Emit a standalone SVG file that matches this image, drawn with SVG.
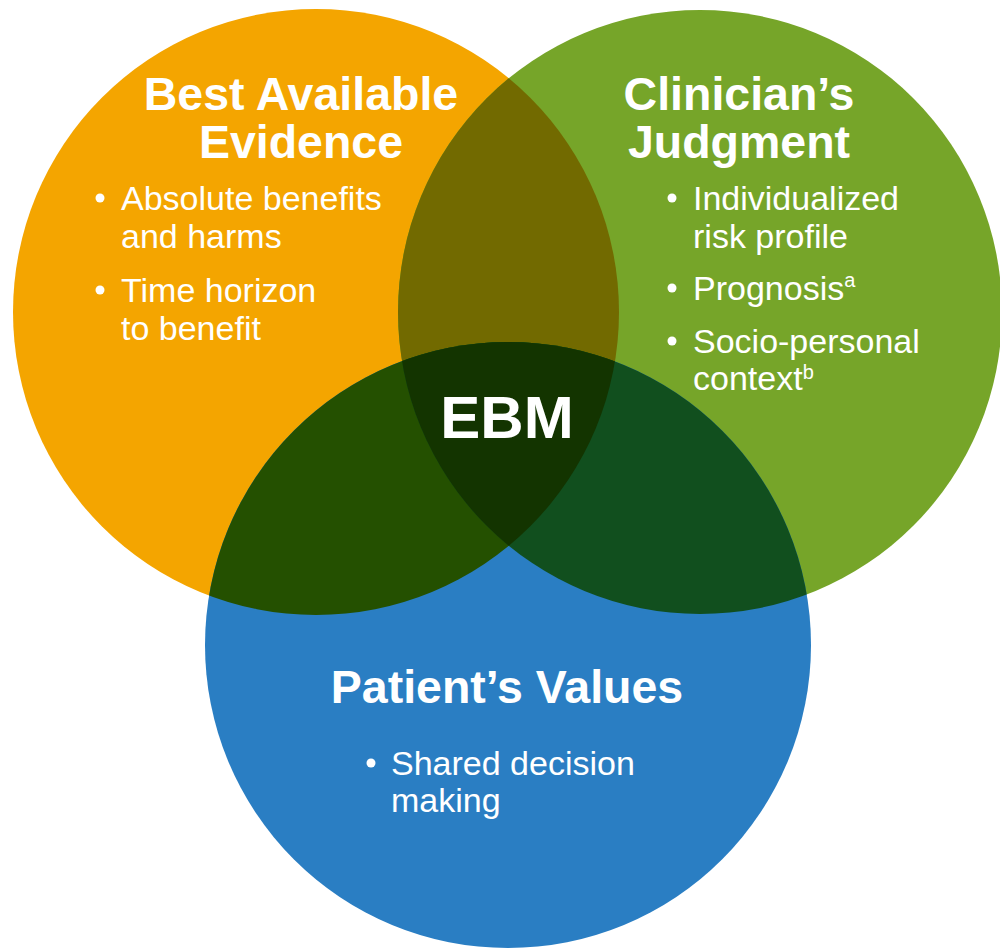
<svg xmlns="http://www.w3.org/2000/svg" width="1000" height="948" viewBox="0 0 1000 948">
<style>
text{font-family:"Liberation Sans",Arial,Helvetica,sans-serif;fill:#fff}
.t{font-weight:bold;font-size:46.5px;text-anchor:middle}
.b{font-size:34px}
.sup{font-size:20px}
.e{font-weight:bold;font-size:60px;text-anchor:middle}
</style>
<defs>
<clipPath id="cO"><circle cx="316" cy="312" r="303"/></clipPath>
<clipPath id="cG"><circle cx="700" cy="312" r="302"/></clipPath>
</defs>
<rect width="1000" height="948" fill="#fff"/>
<g id="evidence"><circle cx="316" cy="312" r="303" fill="#F4A500"/></g>
<g id="judgment"><circle cx="700" cy="312" r="302" fill="#76A529"/></g>
<g id="values"><circle cx="508" cy="645" r="303" fill="#2A7EC3"/></g>
<g id="overlaps">
<circle cx="700" cy="312" r="302" fill="#726A00" clip-path="url(#cO)"/>
<circle cx="508" cy="645" r="303" fill="#245000" clip-path="url(#cO)"/>
<circle cx="508" cy="645" r="303" fill="#114F1E" clip-path="url(#cG)"/>
<g clip-path="url(#cG)"><circle cx="508" cy="645" r="303" fill="#133400" clip-path="url(#cO)"/></g>
</g>
<g id="evidence-label">
<text class="t" x="301" y="110">Best Available</text>
<text class="t" x="301" y="158">Evidence</text>
<circle cx="100" cy="198" r="4.5" fill="#fff"/>
<text class="b" x="121" y="210">Absolute benefits</text>
<text class="b" x="121" y="248">and harms</text>
<circle cx="100" cy="290" r="4.5" fill="#fff"/>
<text class="b" x="121" y="302">Time horizon</text>
<text class="b" x="121" y="340">to benefit</text>
</g>
<g id="judgment-label">
<text class="t" x="739" y="110">Clinician’s</text>
<text class="t" x="739" y="158">Judgment</text>
<circle cx="672" cy="198" r="4.5" fill="#fff"/>
<text class="b" x="693" y="210">Individualized</text>
<text class="b" x="693" y="248">risk profile</text>
<circle cx="672" cy="288" r="4.5" fill="#fff"/>
<text class="b" x="693" y="300">Prognosis<tspan class="sup" dy="-13">a</tspan></text>
<circle cx="672" cy="341" r="4.5" fill="#fff"/>
<text class="b" x="693" y="353">Socio-personal</text>
<text class="b" x="693" y="390">context<tspan class="sup" dy="-11">b</tspan></text>
</g>
<g id="ebm-label">
<text class="e" x="507" y="438">EBM</text>
</g>
<g id="values-label">
<text class="t" x="507" y="703">Patient’s Values</text>
<circle cx="371" cy="763" r="4.5" fill="#fff"/>
<text class="b" x="391" y="775">Shared decision</text>
<text class="b" x="391" y="812">making</text>
</g>
</svg>
